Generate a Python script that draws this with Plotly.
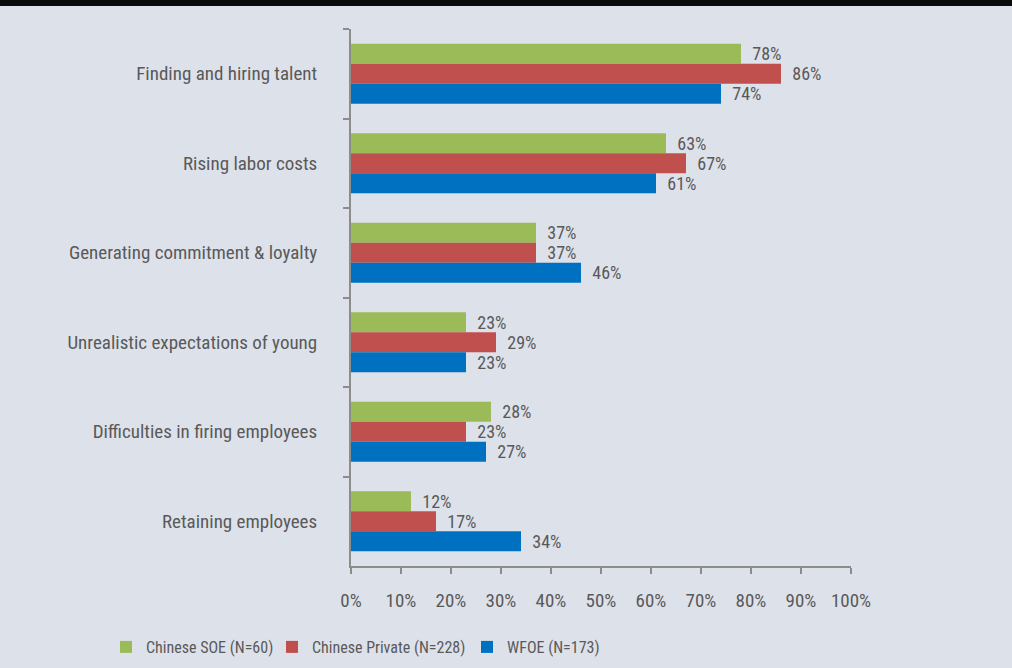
import plotly.graph_objects as go

categories = [
    "Finding and hiring talent",
    "Rising labor costs",
    "Generating commitment & loyalty",
    "Unrealistic expectations of young",
    "Difficulties in firing employees",
    "Retaining employees",
]
soe = [78, 63, 37, 23, 28, 12]
private = [86, 67, 37, 29, 23, 17]
wfoe = [74, 61, 46, 23, 27, 34]
series_names = ["Chinese SOE (N=60)", "Chinese Private (N=228)", "WFOE (N=173)"]
colors = ["#9bbb59", "#c0504d", "#0070c0"]
x_ticks = list(range(0, 101, 10))
x_tick_labels = [f"{v}%" for v in x_ticks]

FONT = "Roboto Condensed, Liberation Sans Narrow, Arial Narrow, sans-serif"
TXT = "#595959"
BG = "#dde1ea"
W, H = 1012, 668
FS = 19

legend_ids = ["legend", "legend2", "legend3"]
legend_text_x = [146, 312, 507]

fig = go.Figure()
for name, vals, col, lid in zip(series_names, [soe, private, wfoe], colors, legend_ids):
    fig.add_trace(go.Bar(
        y=categories, x=vals, name=name, orientation="h",
        marker=dict(color=col, line=dict(width=0)),
        text=[f"{v}%" for v in vals],
        texttemplate="  %{text}",
        textposition="outside",
        constraintext="none",
        cliponaxis=False,
        textfont=dict(family=FONT, size=18, color=TXT),
        legend=lid,
    ))

legend_common = dict(orientation="h", xref="container", yref="container",
                     xanchor="left", yanchor="middle", y=1 - 647 / H,
                     font=dict(family=FONT, size=16, color=TXT), itemwidth=30,
                     bgcolor="rgba(0,0,0,0)", borderwidth=0)
legends = {}
for lid, tx in zip(legend_ids, legend_text_x):
    legends[lid] = dict(legend_common, x=(tx - 40) / W)

fig.update_layout(
    width=W, height=H,
    barmode="group", bargap=0.33, bargroupgap=0,
    paper_bgcolor=BG, plot_bgcolor=BG,
    margin=dict(l=351, r=161, t=29, b=102),
    font=dict(family=FONT, size=FS, color=TXT),
    showlegend=True,
    **legends,
)
fig.update_xaxes(
    range=[0, 100], tickvals=x_ticks, ticktext=x_tick_labels,
    showgrid=False, zeroline=False,
    showline=True, linecolor="#8c8c8c", linewidth=2,
    ticks="outside", ticklen=6, tickwidth=2, tickcolor="#8c8c8c",
    ticklabelstandoff=10,
    tickfont=dict(family=FONT, size=FS, color=TXT),
)
fig.update_yaxes(
    autorange="reversed", showgrid=False, zeroline=False,
    showline=True, linecolor="#8c8c8c", linewidth=2,
    ticks="outside", ticklen=6, tickwidth=2, tickcolor="#8c8c8c",
    tickson="boundaries", ticklabelstandoff=28,
    tickfont=dict(family=FONT, size=FS, color=TXT),
)
fig.add_shape(type="rect", xref="paper", yref="paper",
              x0=-1, x1=2, ysizemode="pixel", yanchor=1, y0=23, y1=40,
              fillcolor="#0a0a0a", line=dict(width=0), layer="above")

fig.write_html("out.html", config={"displayModeBar": False},
               post_script="document.body.style.margin='0';document.body.style.background='%s';" % BG)
